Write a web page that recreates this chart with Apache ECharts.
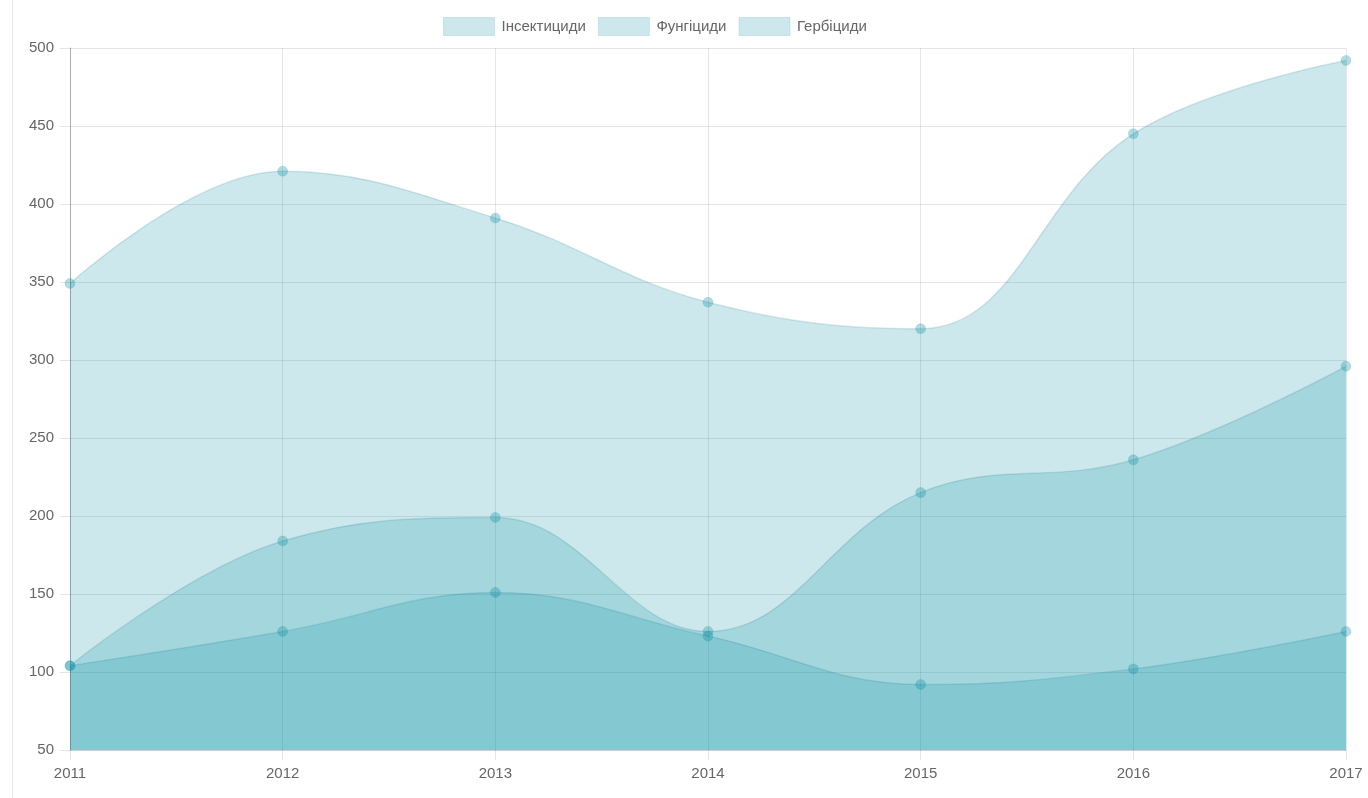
<!DOCTYPE html>
<html>
<head>
<meta charset="utf-8">
<script src="https://cdn.jsdelivr.net/npm/echarts@6/dist/echarts.min.js"></script>
<style>
  html, body { margin: 0; padding: 0; background: #fff; }
  #chart { width: 1368px; height: 798px; }
</style>
</head>
<body>
<div id="chart"></div>
<script>
const years = ['2011', '2012', '2013', '2014', '2015', '2016', '2017']
const insecticides = [104, 126, 151, 123, 92, 102, 126]
const fungicides = [104, 184, 199, 126, 215, 236, 296]
const herbicides = [349, 421, 391, 337, 320, 445, 492]

const fill = 'rgba(0, 140, 160, 0.2)'
const textColor = '#666'
const font = "'Liberation Sans', Arial, sans-serif"

function makeSeries (name, data) {
  return {
    name,
    type: 'line',
    data,
    smooth: 0.4,
    symbol: 'circle',
    symbolSize: 10,
    itemStyle: { color: 'rgba(0, 140, 160, 0.3)', borderColor: 'rgba(0, 140, 160, 0.15)', borderWidth: 1 },
    lineStyle: { color: 'rgba(0, 110, 130, 0.15)', width: 1.5 },
    areaStyle: { color: fill, opacity: 1, origin: 'start' },
    emphasis: { disabled: true }
  }
}

const chart = echarts.init(document.getElementById('chart'), null, { renderer: 'canvas' })
chart.setOption({
  animation: false,
  textStyle: { fontFamily: font },
  legend: {
    top: 12,
    left: 438,
    icon: 'rect',
    itemWidth: 51,
    itemHeight: 18,
    itemGap: 12,
    itemStyle: { color: fill, opacity: 1, borderColor: 'rgba(0, 140, 160, 0.15)', borderWidth: 1 },
    textStyle: { color: textColor, fontSize: 15, fontFamily: font, padding: [0, 0, 0, 2] },
    data: ['Інсектициди', 'Фунгіциди', 'Гербіциди']
  },
  grid: { left: 70, right: 22, top: 48, bottom: 48, containLabel: false },
  xAxis: {
    type: 'category',
    data: years,
    boundaryGap: false,
    axisLine: { show: true, lineStyle: { color: 'rgba(0,0,0,0.1)' } },
    axisTick: { show: true, length: 10, lineStyle: { color: 'rgba(0,0,0,0.1)' } },
    axisLabel: { color: textColor, fontSize: 15, margin: 16 },
    splitLine: { show: true, lineStyle: { color: 'rgba(0,0,0,0.1)' } }
  },
  yAxis: {
    type: 'value',
    min: 50,
    max: 500,
    interval: 50,
    axisLine: { show: true, lineStyle: { color: 'rgba(0,0,0,0.25)' } },
    axisTick: { show: true, length: 10, lineStyle: { color: 'rgba(0,0,0,0.1)' } },
    axisLabel: { color: textColor, fontSize: 15, margin: 16 },
    splitLine: { show: true, lineStyle: { color: 'rgba(0,0,0,0.1)' } }
  },
  graphic: [{
    type: 'line',
    shape: { x1: 12.5, y1: 0, x2: 12.5, y2: 798 },
    style: { stroke: '#e6e6e6', lineWidth: 1 },
    silent: true
  }],
  series: [
    makeSeries('Інсектициди', insecticides),
    makeSeries('Фунгіциди', fungicides),
    makeSeries('Гербіциди', herbicides)
  ]
})
</script>
</body>
</html>
